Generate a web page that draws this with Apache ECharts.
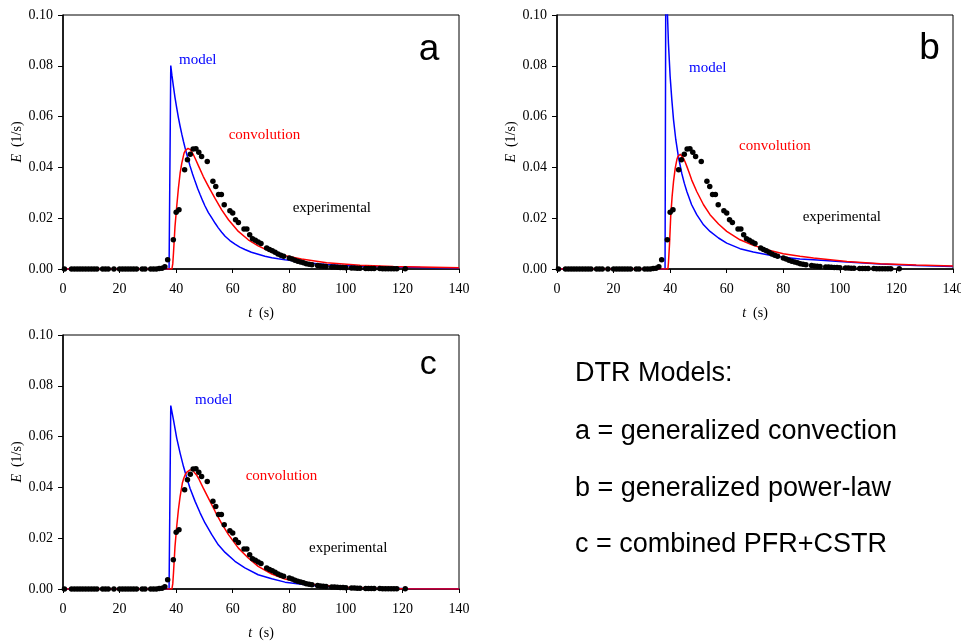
<!DOCTYPE html>
<html>
<head>
<meta charset="utf-8">
<script src="https://cdn.jsdelivr.net/npm/echarts@6/dist/echarts.min.js"></script>
<style>
html,body{margin:0;padding:0;background:#fff;}
#c{width:961px;height:642px;}
</style>
</head>
<body>
<div id="c"></div>
<script>
// ---------- data ----------
const xTickStep = 20;
const yTickStep = 0.02;
const panelLetters = ['a', 'b', 'c'];
const legendLines = [
  'DTR Models:',
  'a = generalized convection',
  'b = generalized power-law',
  'c = combined PFR+CSTR'
];

// experimental points (same in all panels)
const expT = [0.5, 3, 4, 5, 6, 7, 8, 9, 10, 11, 12, 14, 15, 16, 18, 20, 21, 22, 23, 24, 25, 26, 28, 29, 31, 32, 33,
  34, 35, 36, 37, 39, 40, 41, 43, 44, 45, 46, 47, 48, 49, 51, 53, 54, 55, 56, 57, 59, 60, 61, 62,
  64, 65, 66, 67, 68, 69, 70, 72, 73, 74, 75, 76, 77, 78, 80, 81, 82, 83, 84, 85, 86, 87, 88,
  90, 91, 92, 93, 95, 96, 97, 98, 99, 100, 102, 103, 104, 105, 107, 108, 109, 110,
  112, 113, 114, 115, 116, 117, 118, 121];
const expE = [0, 0, 0, 0, 0, 0, 0, 0, 0, 0, 0, 0, 0, 0, 0, 0, 0, 0, 0, 0, 0, 0, 0, 0, 0, 0, 0,
  0.0002, 0.0003, 0.0009, 0.0036, 0.0115, 0.0223, 0.0233, 0.0391, 0.0430, 0.0452, 0.0472, 0.0473, 0.0460, 0.0443, 0.0423, 0.0345, 0.0325, 0.0293, 0.0293, 0.0253, 0.0229, 0.0220, 0.0194, 0.0183,
  0.0157, 0.0157, 0.0135, 0.0119, 0.0113, 0.0106, 0.0100, 0.0083, 0.0077, 0.0072, 0.0066, 0.0059, 0.0054, 0.0050, 0.0043, 0.0039, 0.0034, 0.0031, 0.0028, 0.0025, 0.0021, 0.0019, 0.0017,
  0.0014, 0.0012, 0.0011, 0.0010, 0.0008, 0.0008, 0.0007, 0.0006, 0.0006, 0.0005, 0.0004, 0.0004, 0.0003, 0.0003, 0.0002, 0.0002, 0.0002, 0.0002,
  0.0002, 0.0001, 0.0001, 0.0001, 0.0001, 0.0001, 0.0001, 0.0001];

// panel a: generalized convection
const modelAT = [0, 37.5, 38.1, 38.5, 39.0, 39.6, 40.2, 40.8, 41.4, 42.0, 42.6, 43.2, 43.8, 44.4, 44.9, 45.8, 46.7, 47.6, 48.5, 49.4, 50.2, 51.4, 52.6, 53.8, 54.9, 56.1, 57.3, 59.0, 60.8, 62.5, 64.3, 66.6, 69.0, 71.4, 73.8, 76.1, 78.5, 81.4, 84.3, 87.3, 90, 93.2, 99, 105, 111, 116.8, 126.3, 133, 140];
const modelAE = [0, 0, 0.0801, 0.0763, 0.0722, 0.0675, 0.0634, 0.0596, 0.0562, 0.0531, 0.0502, 0.0475, 0.0450, 0.0426, 0.0406, 0.0374, 0.0345, 0.0317, 0.0292, 0.0268, 0.0248, 0.0222, 0.0201, 0.0180, 0.0162, 0.0145, 0.0129, 0.0112, 0.0098, 0.0086, 0.0077, 0.0066, 0.0058, 0.0050, 0.0044, 0.0040, 0.0036, 0.0032, 0.0028, 0.0024, 0.0021, 0.0018, 0.0014, 0.0011, 0.0009, 0.0008, 0.0006, 0.0005, 0.0004];
const convAT = [0, 38.5, 38.8, 39.06, 39.6, 40.2, 40.8, 41.4, 42.0, 42.8, 43.3, 43.8, 44.2, 44.6, 45.0, 45.5, 46.1, 46.7, 47.9, 49.6, 51.4, 53.8, 56.1, 58.5, 62.0, 65.5, 69.0, 73.8, 78.5, 84.3, 93.2, 105, 116.8, 126.3, 140];
const convAE = [0, 0, 0.0020, 0.0063, 0.0168, 0.0246, 0.0318, 0.0377, 0.0417, 0.0456, 0.0467, 0.0473, 0.0475, 0.0474, 0.0470, 0.0463, 0.0450, 0.0436, 0.0406, 0.0364, 0.0325, 0.0277, 0.0233, 0.0194, 0.0148, 0.0115, 0.0091, 0.0066, 0.0052, 0.0039, 0.0025, 0.0015, 0.0010, 0.0008, 0.0005];

// panel b: generalized power-law
const modelBT = [0, 38.2, 38.5, 39.06, 39.4, 40.0, 40.6, 41.2, 42.0, 42.9, 44.1, 45.0, 45.9, 47.6, 49.4, 51.8, 54.1, 57.1, 60.0, 64.7, 69.4, 75.3, 80.0, 85.9, 90.7, 102.5, 114.3, 127, 140];
const modelBE = [0, 0, 0.13, 0.100, 0.0889, 0.0758, 0.0666, 0.0587, 0.0509, 0.0443, 0.0377, 0.0338, 0.0305, 0.0253, 0.0214, 0.0174, 0.0148, 0.0122, 0.0102, 0.0080, 0.0067, 0.0054, 0.0046, 0.0039, 0.0036, 0.0028, 0.0020, 0.0014, 0.0010];
const convBT = [0, 39.2, 39.4, 39.8, 40.2, 40.7, 41.2, 41.8, 42.4, 42.8, 43.2, 43.6, 43.9, 44.3, 44.7, 45.3, 45.9, 46.7, 47.6, 49.4, 51.8, 54.1, 57.1, 60.0, 64.7, 69.4, 75.3, 80.0, 85.9, 90.7, 102.5, 114.3, 127, 140];
const convBE = [0, 0, 0.0024, 0.0102, 0.0207, 0.0286, 0.0345, 0.0397, 0.0432, 0.0444, 0.0450, 0.0452, 0.0450, 0.0445, 0.0436, 0.0421, 0.0404, 0.0380, 0.0351, 0.0305, 0.0253, 0.0214, 0.0177, 0.0148, 0.0115, 0.0093, 0.0073, 0.0060, 0.0050, 0.0043, 0.0030, 0.0021, 0.0016, 0.0012];

// panel c: combined PFR+CSTR
const modelCT = [0, 37.5, 38.1, 39.06, 40.2, 41.4, 42.6, 43.8, 44.9, 46.7, 48.5, 50.2, 52.6, 54.9, 57.3, 60.8, 64.3, 69.0, 73.8, 78.5, 84.3, 90, 100, 110, 120, 140];
const modelCE = [0, 0, 0.0722, 0.0666, 0.0594, 0.0535, 0.0482, 0.0436, 0.0397, 0.0345, 0.0299, 0.0260, 0.0214, 0.0174, 0.0144, 0.0109, 0.0083, 0.0056, 0.0040, 0.0027, 0.0019, 0.0012, 0.0006, 0.0003, 0.0002, 0.0001];
const convCT = [0, 38.5, 38.8, 39.06, 39.6, 40.2, 40.8, 41.4, 42.2, 42.7, 43.2, 43.8, 44.4, 44.9, 45.3, 45.9, 46.5, 47.2, 47.9, 49.6, 51.4, 53.8, 56.1, 58.5, 62.0, 65.5, 69.0, 73.8, 78.5, 84.3, 90, 100, 110, 120, 140];
const convCE = [0, 0, 0.0020, 0.0063, 0.0168, 0.0246, 0.0312, 0.0364, 0.0417, 0.0436, 0.0450, 0.0460, 0.0467, 0.0469, 0.0469, 0.0466, 0.0460, 0.0449, 0.0436, 0.0397, 0.0358, 0.0305, 0.0257, 0.0214, 0.0161, 0.0122, 0.0089, 0.0059, 0.0039, 0.0026, 0.0016, 0.0007, 0.0003, 0.0001, 0.0000];

// ---------- chart ----------
const pairs = (ts, es) => ts.map((t, i) => [t, es[i]]);
const SERIF = '"Liberation Serif", "Times New Roman", serif';
const SANS = '"Liberation Sans", Arial, sans-serif';

const grids = [
  { left: 63, top: 15, width: 396, height: 254 },
  { left: 557, top: 15, width: 396, height: 254 },
  { left: 63, top: 335, width: 396, height: 254 }
];
const yNameGaps = [39, 38, 39];

const models = [pairs(modelAT, modelAE), pairs(modelBT, modelBE), pairs(modelCT, modelCE)];
const convs = [pairs(convAT, convAE), pairs(convBT, convBE), pairs(convCT, convCE)];
const exp = pairs(expT, expE);

const xAxes = grids.map((g, i) => ({
  type: 'value', gridIndex: i, min: 0, max: 140, interval: xTickStep,
  axisLine: { show: true, onZero: false, lineStyle: { color: '#000', width: 1.5 } },
  axisTick: { show: true, inside: false, length: 4, lineStyle: { color: '#000', width: 1 } },
  axisLabel: { color: '#000', fontFamily: SERIF, fontSize: 14, margin: 13, hideOverlap: false },
  splitLine: { show: false },
  name: '{i|t}  (s)', nameLocation: 'middle', nameGap: 37,
  nameTextStyle: { color: '#000', fontFamily: SERIF, fontSize: 14,
    rich: { i: { fontStyle: 'italic', fontFamily: SERIF, fontSize: 14, color: '#000' } } }
}));
const yAxes = grids.map((g, i) => ({
  type: 'value', gridIndex: i, min: 0, max: 0.1, interval: yTickStep,
  axisLine: { show: true, onZero: false, lineStyle: { color: '#000', width: 1.5 } },
  axisTick: { show: true, inside: false, length: 5, lineStyle: { color: '#000', width: 1 } },
  axisLabel: { color: '#000', fontFamily: SERIF, fontSize: 14, margin: 10, formatter: v => v.toFixed(2) },
  splitLine: { show: false },
  name: '{i|E}  (1/s)', nameLocation: 'middle', nameGap: yNameGaps[i], nameRotate: 90,
  nameTextStyle: { color: '#000', fontFamily: SERIF, fontSize: 14,
    rich: { i: { fontStyle: 'italic', fontFamily: SERIF, fontSize: 14, color: '#000' } } }
}));

const series = [];
for (let i = 0; i < 3; i++) {
  series.push({
    type: 'line', xAxisIndex: i, yAxisIndex: i, data: models[i], showSymbol: false, symbol: 'none',
    lineStyle: { color: '#0000ff', width: 1.5 }, itemStyle: { color: '#0000ff' }, clip: true, z: 2, silent: true
  });
  series.push({
    type: 'line', xAxisIndex: i, yAxisIndex: i, data: convs[i], showSymbol: false, symbol: 'none',
    lineStyle: { color: '#ff0000', width: 1.5 }, itemStyle: { color: '#ff0000' }, clip: true, z: 3, silent: true
  });
  series.push({
    type: 'scatter', xAxisIndex: i, yAxisIndex: i, data: exp, symbol: 'circle', symbolSize: 5.5,
    itemStyle: { color: '#000', opacity: 1 }, z: 4, silent: true
  });
}

function txt(x, y, s, color, font, align) {
  return { type: 'text', x: x, y: y, z: 10,
    style: { text: s, fill: color, font: font, textAlign: align || 'left', textVerticalAlign: 'middle',
             align: align || 'left', verticalAlign: 'middle' } };
}
const f15 = '15px ' + SERIF;
const annPos = [
  { model: [179, 60], conv: [228.7, 135], exp: [292.7, 208.3], letter: [429, 49.5], lsize: 37 },
  { model: [689, 68.3], conv: [739, 145.7], exp: [802.7, 217.3], letter: [929.5, 49], lsize: 37 },
  { model: [195, 400], conv: [245.7, 475.7], exp: [309, 548.3], letter: [428.3, 365], lsize: 34 }
];
const graphics = [];
annPos.forEach((p, i) => {
  graphics.push(txt(p.model[0], p.model[1], 'model', '#0000ff', f15));
  graphics.push(txt(p.conv[0], p.conv[1], 'convolution', '#ff0000', f15));
  graphics.push(txt(p.exp[0], p.exp[1], 'experimental', '#000', f15));
  graphics.push(txt(p.letter[0], p.letter[1], panelLetters[i], '#000', p.lsize + 'px ' + SANS, 'center'));
});
const legendY = [373.9, 431.3, 488.9, 544.6];
legendLines.forEach((s, i) => graphics.push(txt(575, legendY[i], s, '#000', '27px ' + SANS)));

const chart = echarts.init(document.getElementById('c'), null, { renderer: 'canvas' });
chart.setOption({
  animation: false,
  backgroundColor: '#fff',
  grid: grids.map(g => Object.assign({ show: true, borderColor: '#000', borderWidth: 1, backgroundColor: 'transparent',
    containLabel: false, outerBoundsMode: 'none' }, g)),
  xAxis: xAxes,
  yAxis: yAxes,
  series: series,
  graphic: graphics
});
</script>
</body>
</html>
